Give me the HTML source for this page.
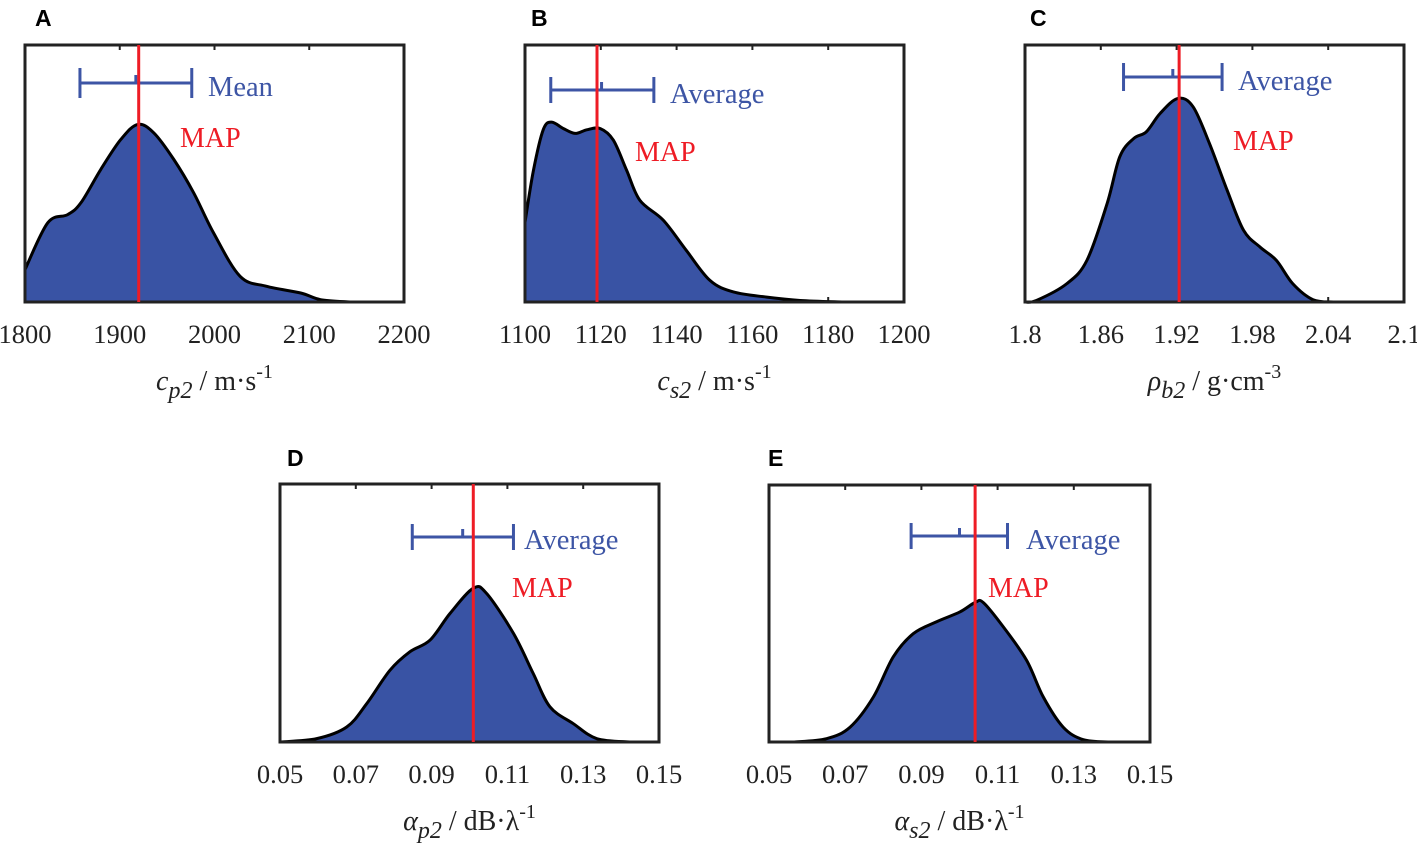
<!DOCTYPE html>
<html><head><meta charset="utf-8"><style>
body{margin:0;background:#fff}
svg{display:block}
text{font-family:"Liberation Serif",serif}
.pl{font-family:"Liberation Sans",sans-serif;font-weight:bold;font-size:23px}
</style></head><body>
<svg id="fig" width="1417" height="847" viewBox="0 0 1417 847" xmlns="http://www.w3.org/2000/svg"></svg>
<script>
// Panel A: c_p2
const aX=[1800,1824,1845,1859,1880,1901,1919,1936,1957,1978,1999,2027,2055,2091,2112,2143];
const aY=[0.126,0.308,0.34,0.386,0.516,0.632,0.691,0.658,0.555,0.425,0.269,0.10,0.061,0.035,0.009,0];
const aTicks=[1800,1900,2000,2100,2200];
const aStats=[1858,1917,1976,1920]; // low, mean, high, MAP
// Panel B: c_s2
const bX=[1100,1102.2,1104.8,1107,1110.1,1113.2,1116.3,1119.8,1123.3,1126.8,1130.3,1136.5,1142.6,1148.8,1155,1163.8,1172.6,1184];
const bY=[0.31,0.51,0.67,0.70,0.675,0.656,0.67,0.675,0.63,0.513,0.396,0.318,0.2,0.084,0.039,0.019,0.006,0];
const bTicks=[1100,1120,1140,1160,1180,1200];
const bStats=[1106.8,1120.2,1134,1119];
// Panel C: rho_b2
const cX=[1.8,1.809,1.833,1.849,1.865,1.875,1.886,1.896,1.907,1.921,1.933,1.946,1.960,1.973,1.986,1.999,2.012,2.028,2.044];
const cY=[0,0.006,0.071,0.162,0.383,0.565,0.636,0.662,0.734,0.792,0.76,0.617,0.435,0.279,0.214,0.162,0.071,0.009,0];
const cTicks=[1.8,1.86,1.92,1.98,2.04,2.1];
const cStats=[1.878,1.917,1.956,1.922];
// Panel D: alpha_p2
const dX=[0.05,0.0597,0.0676,0.0729,0.079,0.0843,0.0896,0.0949,0.101,0.1045,0.1116,0.1168,0.1212,0.1274,0.1336,0.1423];
const dY=[0,0.013,0.058,0.149,0.278,0.35,0.395,0.499,0.596,0.576,0.421,0.266,0.137,0.071,0.013,0];
const dTicks=[0.05,0.07,0.09,0.11,0.13,0.15];
const dStats=[0.0849,0.0982,0.1116,0.101];
// Panel E: alpha_s2
const eX=[0.0564,0.0651,0.0713,0.0774,0.0826,0.0879,0.094,0.1001,0.1041,0.1063,0.1115,0.1176,0.122,0.1272,0.1325,0.1395];
const eY=[0,0.013,0.058,0.175,0.331,0.422,0.468,0.506,0.543,0.542,0.448,0.318,0.175,0.058,0.009,0];
const eTicks=[0.05,0.07,0.09,0.11,0.13,0.15];
const eStats=[0.0873,0.100,0.1126,0.1041];

const NS="http://www.w3.org/2000/svg";
const svg=document.getElementById('fig');
function mk(tag,attrs,parent){const e=document.createElementNS(NS,tag);for(const k in attrs)e.setAttribute(k,attrs[k]);(parent||svg).appendChild(e);return e;}

const panels=[
 {id:'a',letter:'A',lx:35,ly:26,x0:25,x1:404,y0:45,y1:302,xs:aX,ys:aY,ticks:aTicks,st:aStats,ebY:83,cap:15,lab:'Mean',labX:208,labY:96,mapX:180,mapY:147,tickY:343,titleY:390,title:['c','p2',' / m·s','-1']},
 {id:'b',letter:'B',lx:531,ly:26,x0:525,x1:904,y0:45,y1:302,xs:bX,ys:bY,ticks:bTicks,st:bStats,ebY:90,cap:13,lab:'Average',labX:670,labY:103,mapX:635,mapY:161,tickY:343,titleY:390,title:['c','s2',' / m·s','-1']},
 {id:'c',letter:'C',lx:1030,ly:26,x0:1025,x1:1404,y0:45,y1:302,xs:cX,ys:cY,ticks:cTicks,st:cStats,ebY:77,cap:14,lab:'Average',labX:1238,labY:90,mapX:1233,mapY:150,tickY:343,titleY:390,title:['ρ','b2',' / g·cm','-3']},
 {id:'d',letter:'D',lx:287,ly:466,x0:280,x1:659,y0:484,y1:742,xs:dX,ys:dY,ticks:dTicks,st:dStats,ebY:537,cap:13,lab:'Average',labX:524,labY:549,mapX:512,mapY:597,tickY:783,titleY:830,title:['α','p2',' / dB·λ','-1']},
 {id:'e',letter:'E',lx:768,ly:466,x0:769,x1:1150,y0:485,y1:742,xs:eX,ys:eY,ticks:eTicks,st:eStats,ebY:536,cap:13,lab:'Average',labX:1026,labY:549,mapX:988,mapY:597,tickY:783,titleY:830,title:['α','s2',' / dB·λ','-1']}
];

function smooth(pts){
 let d='M'+pts[0][0]+','+pts[0][1];
 for(let i=0;i<pts.length-1;i++){
  const p0=pts[Math.max(0,i-1)],p1=pts[i],p2=pts[i+1],p3=pts[Math.min(pts.length-1,i+2)];
  const c1=[p1[0]+(p2[0]-p0[0])/6,p1[1]+(p2[1]-p0[1])/6];
  const c2=[p2[0]-(p3[0]-p1[0])/6,p2[1]-(p3[1]-p1[1])/6];
  d+=' C'+c1[0].toFixed(2)+','+c1[1].toFixed(2)+' '+c2[0].toFixed(2)+','+c2[1].toFixed(2)+' '+p2[0].toFixed(2)+','+p2[1].toFixed(2);
 }
 return d;
}

panels.forEach(p=>{
 const g=mk('g',{});
 
 
 const tmin=p.ticks[0],tmax=p.ticks[p.ticks.length-1];
 const X=v=>p.x0+(v-tmin)/(tmax-tmin)*(p.x1-p.x0);
 const Y=v=>p.y1-v*(p.y1-p.y0);
 const lt=mk('text',{x:p.lx,y:p.ly,class:'pl','text-anchor':'start'},g);lt.textContent=p.letter;
 
 
 p.ticks.forEach((t,i)=>{
  const x=X(t);
  if(i>0&&i<p.ticks.length-1){
   const tk=mk('path',{d:`M${x},${p.y0}v5M${x},${p.y1}v-5`,stroke:'#222','stroke-width':2},g);
   
   
  }
  const tl=mk('text',{x:x,y:p.tickY,'font-size':26.5,'text-anchor':'middle',fill:'#222'},g);
  tl.textContent=String(t);
  
  
 });
 const pts=p.xs.map((v,i)=>[X(v),Y(p.ys[i])]);
 const line=smooth(pts);
 const fill=mk('path',{d:line+` L${pts[pts.length-1][0]},${p.y1} L${pts[0][0]},${p.y1} Z`,fill:'#3953a4',stroke:'none'},g);
 
 
 const ol=mk('path',{d:line,fill:'none',stroke:'#000','stroke-width':3,'stroke-linejoin':'round'},g);
 
 
 const bx=mk('rect',{x:p.x0,y:p.y0,width:p.x1-p.x0,height:p.y1-p.y0,fill:'none',stroke:'#222','stroke-width':3},g);
 
 
 const [lo,mu,hi,map]=p.st;
 const eb=mk('path',{d:`M${X(lo)},${p.ebY}H${X(hi)}M${X(lo)},${p.ebY-p.cap}v${2*p.cap}M${X(hi)},${p.ebY-p.cap}v${2*p.cap}M${X(mu)},${p.ebY-8}v8`,stroke:'#3d55a5','stroke-width':3,fill:'none'},g);
 
 
 const ml=mk('line',{x1:X(map),x2:X(map),y1:p.y0,y2:p.y1,stroke:'#ee1c25','stroke-width':3},g);
 
 
 const at=mk('text',{x:p.labX,y:p.labY,'font-size':28.5,fill:'#3d55a5'},g);at.textContent=p.lab;
 
 
 const mt=mk('text',{x:p.mapX,y:p.mapY,'font-size':28,fill:'#ee1c25'},g);mt.textContent='MAP';
 
 
 const tt=mk('text',{x:(p.x0+p.x1)/2,y:p.titleY,'font-size':28,'text-anchor':'middle',fill:'#222'},g);
 
 
 const s1=mk('tspan',{'font-style':'italic'},tt);s1.textContent=p.title[0];
 const s2=mk('tspan',{'font-style':'italic',dy:8,'font-size':24},tt);s2.textContent=p.title[1];
 const s3=mk('tspan',{dy:-8},tt);s3.textContent=p.title[2];
 const s4=mk('tspan',{dy:-12,'font-size':20},tt);s4.textContent=p.title[3];
});
</script>
</body></html>
